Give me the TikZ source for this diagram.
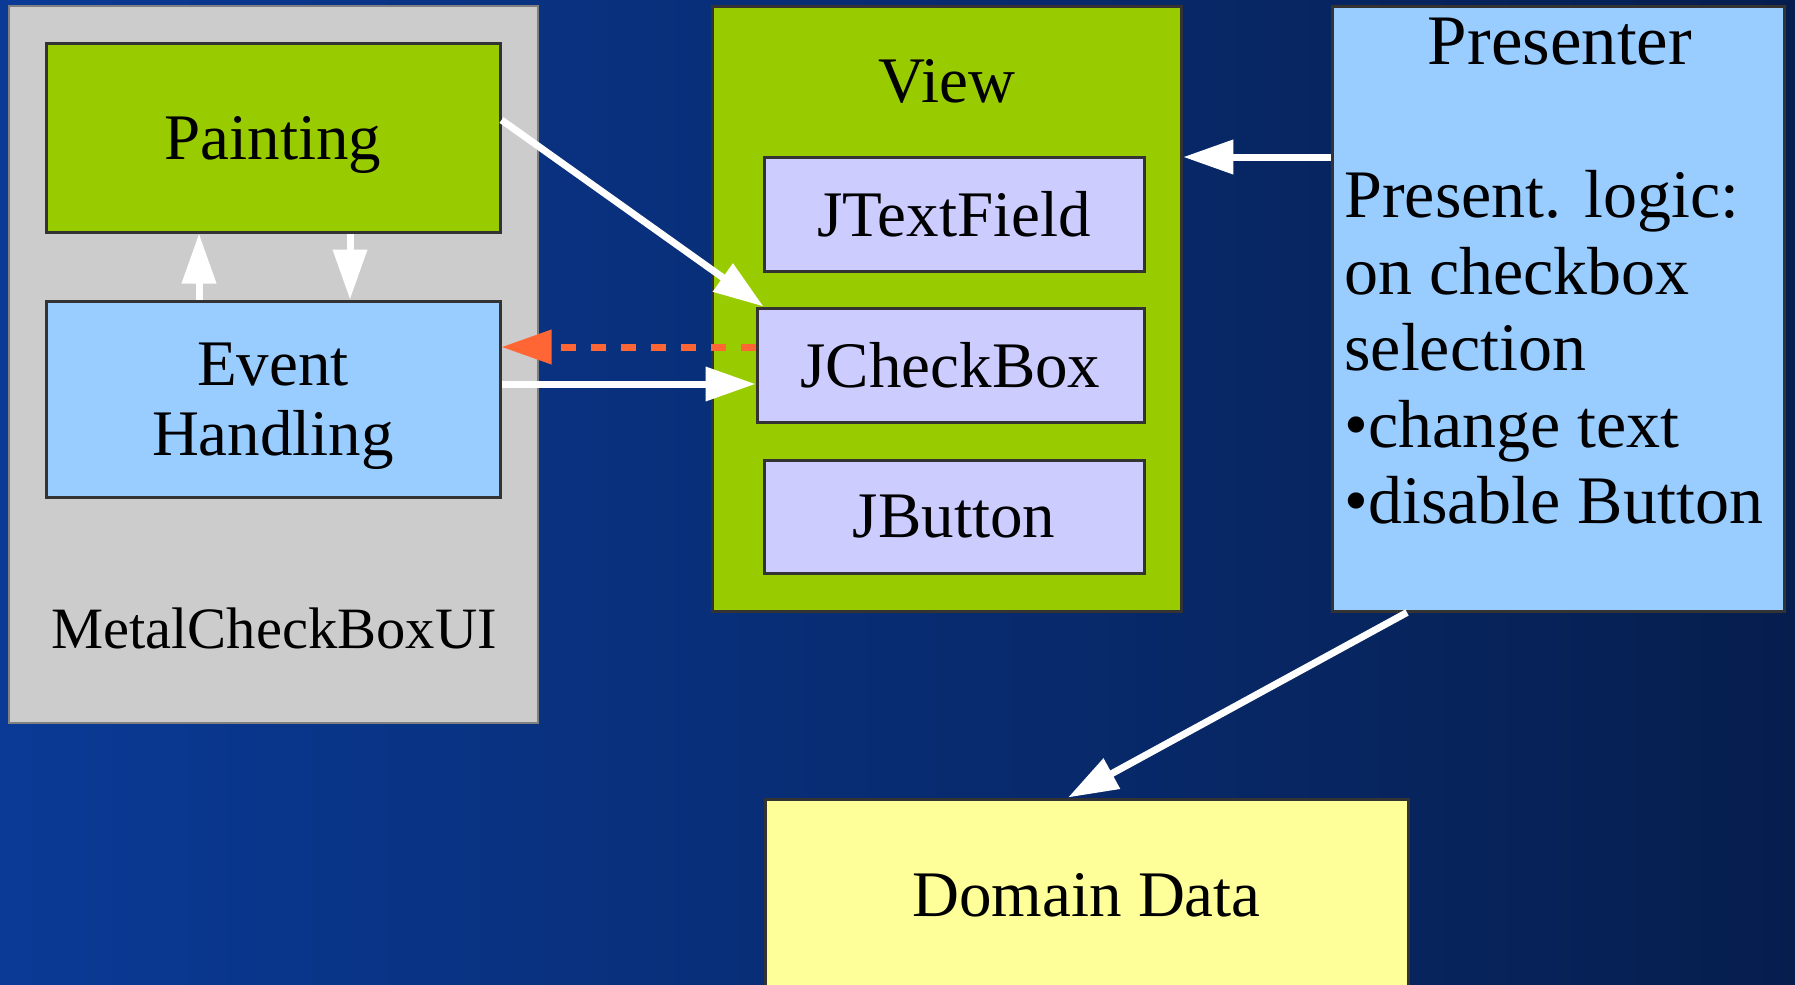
\documentclass[tikz,border=0pt]{standalone}
\usepackage{fontspec}
\setmainfont{Liberation Serif}
\usetikzlibrary{arrows.meta}
\definecolor{bgleft}{RGB}{10,58,150}
\definecolor{bgright}{RGB}{6,30,78}
\definecolor{boxline}{RGB}{51,51,51}
\definecolor{uigray}{RGB}{204,204,204}
\definecolor{paintgreen}{RGB}{153,204,0}
\definecolor{eventblue}{RGB}{153,204,255}
\definecolor{widgetlilac}{RGB}{204,204,255}
\definecolor{domainyellow}{RGB}{255,255,153}
\definecolor{callorange}{RGB}{255,102,51}

\begin{document}
\begin{tikzpicture}[x=0.5pt,y=-0.5pt,
    box/.style={draw=boxline, line width=1.5pt, inner sep=0pt, text depth=0pt, font=\fontsize{32.5}{35}\selectfont},
    label text/.style={inner sep=0pt, font=\fontsize{32.5}{35}\selectfont},
    flow/.style={white, line width=3.5pt, -{Triangle[length=25pt,width=16.5pt]}},
    callback/.style={callorange, line width=3.5pt, dash pattern=on 7.5pt off 7.5pt, -{Triangle[length=25pt,width=16.5pt]}}]
     \useasboundingbox (0,0) rectangle (1795,985);
     \shade[left color=bgleft, right color=bgright] (0,0) rectangle (1795,985);

     % look and feel
     \node[box, fill=uigray, draw=gray, line width=0.8pt, minimum width=264.5pt, minimum height=358.5pt] (ui) at (273.5,364.5) {};
     \node[box, fill=paintgreen, minimum width=227pt, minimum height=94.5pt] (paint) at (273,137.5) {Painting};
     \node[box, fill=eventblue, align=center, minimum width=227pt, minimum height=98pt] (event) at (273,399) {Event\\Handling};
     \node[inner sep=0pt, font=\fontsize{29.3}{34}\selectfont, anchor=base] (uiname) at (274,648) {MetalCheckBoxUI};

     % view
     \node[box, fill=paintgreen, minimum width=234.75pt, minimum height=302.5pt] (view) at (947,308.5) {};
     \node[label text, anchor=base] (viewname) at (947,102) {View};
     \node[box, fill=widgetlilac, minimum width=190pt, minimum height=57pt] (jtext) at (954,214) {JTextField};
     \node[box, fill=widgetlilac, minimum width=193.5pt, minimum height=57pt] (jcheck) at (950.5,365) {JCheckBox};
     \node[box, fill=widgetlilac, minimum width=190pt, minimum height=56.5pt] (jbutton) at (954,516.5) {JButton};

     % presenter
     \node[box, fill=eventblue, minimum width=226pt, minimum height=302.5pt] (presenter) at (1558,308.5) {};
     \node[label text, font=\fontsize{35.5}{38}\selectfont, anchor=base] (presname) at (1560,64) {Presenter};
     \node[label text, font=\fontsize{34}{38.25}\selectfont, anchor=north west, align=left] (logic) at (1344,170) {Present. logic:\\on checkbox\\selection\\•change text\\•disable Button};

     % model
     \node[box, fill=domainyellow, minimum width=321.5pt, minimum height=95.5pt] (domain) at (1086.5,894.5) {Domain Data};

     \draw[flow] ([xshift=-37pt]event.north) -- ([xshift=-37pt]paint.south);
     \draw[flow] ([xshift=38.5pt]paint.south) -- ([xshift=38.5pt]event.north);
     \draw[flow] ([yshift=8.75pt]paint.east) -- ([xshift=4pt]jcheck.north west);
     \draw[callback] ([yshift=9pt]jcheck.west) -- ([yshift=26pt]event.east);
     \draw[flow] ([yshift=7.5pt]event.east) -- ([yshift=-9.5pt]jcheck.west);
     \draw[flow] ([yshift=75.75pt]presenter.west) -- ([yshift=75.75pt]view.east);
     \draw[flow] ([xshift=-75.5pt]presenter.south) -- ([xshift=-9.25pt]domain.north);
\end{tikzpicture}
\end{document}
